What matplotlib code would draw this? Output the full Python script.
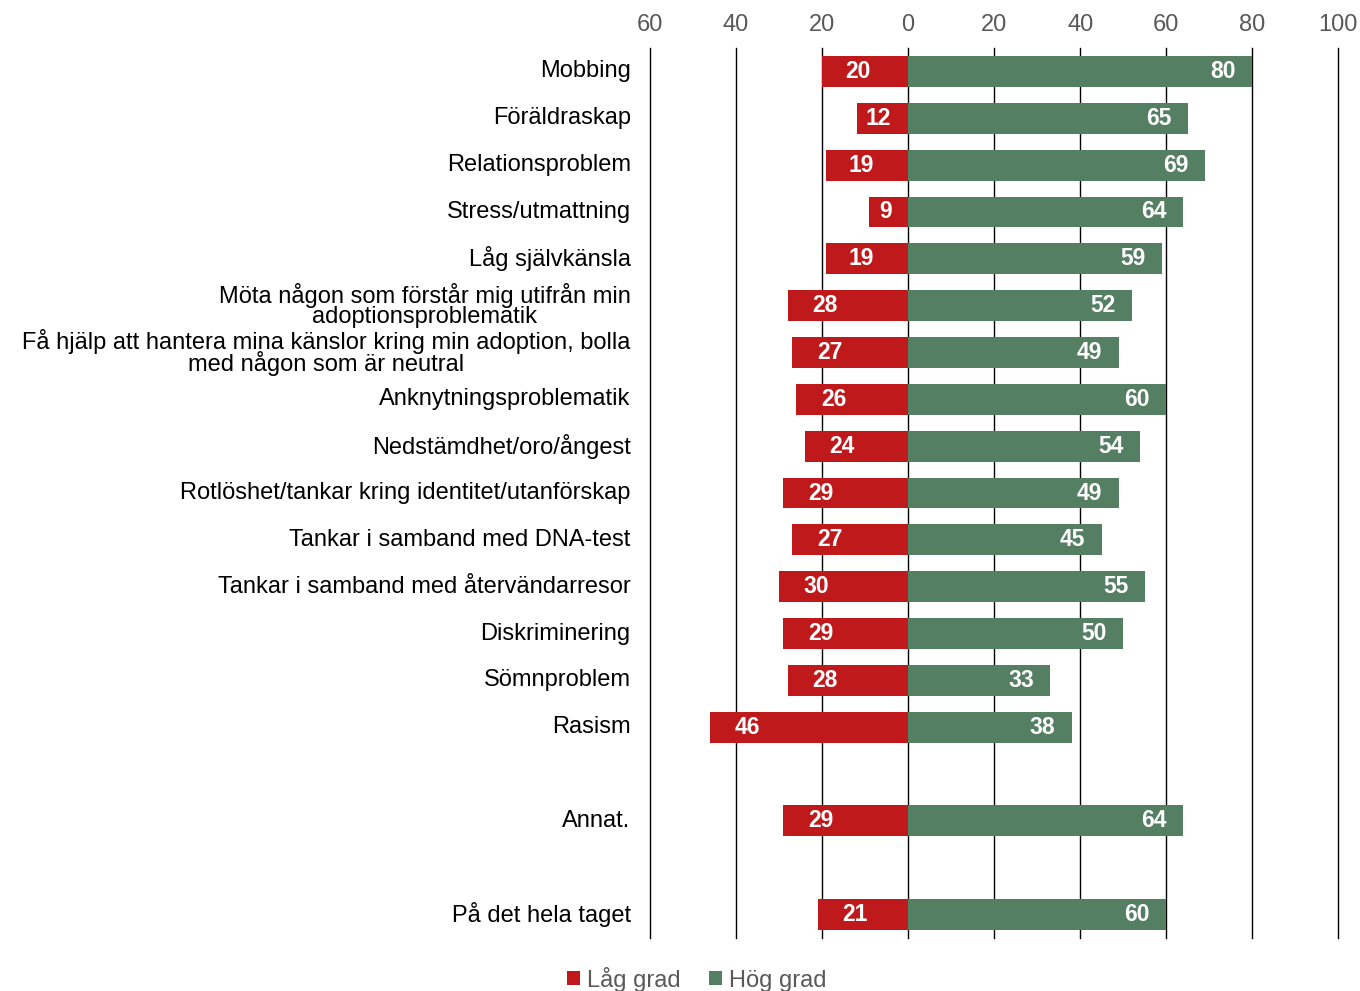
import numpy as np
import matplotlib.pyplot as plt

plt.rcParams['font.family'] = ['Liberation Sans', 'DejaVu Sans']

# Data
categories = ['Mobbing', 'Föräldraskap', 'Relationsproblem', 'Stress/utmattning',
              'Låg självkänsla',
              'Möta någon som förstår mig utifrån min\nadoptionsproblematik',
              'Få hjälp att hantera mina känslor kring min adoption, bolla\nmed någon som är neutral',
              'Anknytningsproblematik', 'Nedstämdhet/oro/ångest',
              'Rotlöshet/tankar kring identitet/utanförskap',
              'Tankar i samband med DNA-test', 'Tankar i samband med återvändarresor',
              'Diskriminering', 'Sömnproblem', 'Rasism', 'Annat.', 'På det hela taget']
low = [20, 12, 19, 9, 19, 28, 27, 26, 24, 29, 27, 30, 29, 28, 46, 29, 21]
high = [80, 65, 69, 64, 59, 52, 49, 60, 54, 49, 45, 55, 50, 33, 38, 64, 60]
slots = list(range(15)) + [16, 18]
ticks = [-60, -40, -20, 0, 20, 40, 60, 80, 100]
tick_labels = ['60', '40', '20', '0', '20', '40', '60', '80', '100']

red = '#C0191C'
green = '#557F63'
gray = '#595959'

fig = plt.figure(figsize=(13.6, 9.91), dpi=100)
ax = fig.add_axes([0.478, 0.0535, 0.506, 0.898])

y = np.array(slots)
ax.barh(y, -np.array(low), height=0.66, color=red, label='Låg grad', zorder=3)
ax.barh(y, high, height=0.66, color=green, label='Hög grad', zorder=3)

# points per data unit (axes width in points / range)
pt_per_unit = 0.506 * 13.6 * 72 / 160
for yi, lo, hi in zip(y, low, high):
    off = min(27, 0.42 * lo * pt_per_unit)
    ax.annotate(str(lo), xy=(-lo, yi), xytext=(off, 0), textcoords='offset points',
                ha='center', va='center', color='white', fontsize=16.5, fontweight='bold',
                zorder=4)
    ax.annotate(str(hi), xy=(hi, yi), xytext=(-21, 0), textcoords='offset points',
                ha='center', va='center', color='white', fontsize=16.5, fontweight='bold',
                zorder=4)

ax.set_xlim(-60, 100)
ax.set_ylim(18.5, -0.5)
ax.set_xticks(ticks)
ax.set_xticklabels(tick_labels, color=gray, fontsize=17)
ax.xaxis.tick_top()
ax.tick_params(axis='x', length=0, pad=9)
ax.set_yticks(y)
ax.set_yticklabels(categories, fontsize=17, linespacing=0.85, multialignment='center',
                   va='center')
ax.tick_params(axis='y', length=0, pad=14)
for t in ticks:
    ax.axvline(t, color='black', linewidth=1, zorder=1, clip_on=False)
for s in ax.spines.values():
    s.set_visible(False)

leg = fig.legend(loc='lower center', bbox_to_anchor=(0.512, -0.022), ncol=2,
                 frameon=False, fontsize=17, handlelength=0.55, handleheight=0.55,
                 handletextpad=0.3, columnspacing=1.2)
for t in leg.get_texts():
    t.set_color(gray)

fig.savefig('out.png', dpi=100)
